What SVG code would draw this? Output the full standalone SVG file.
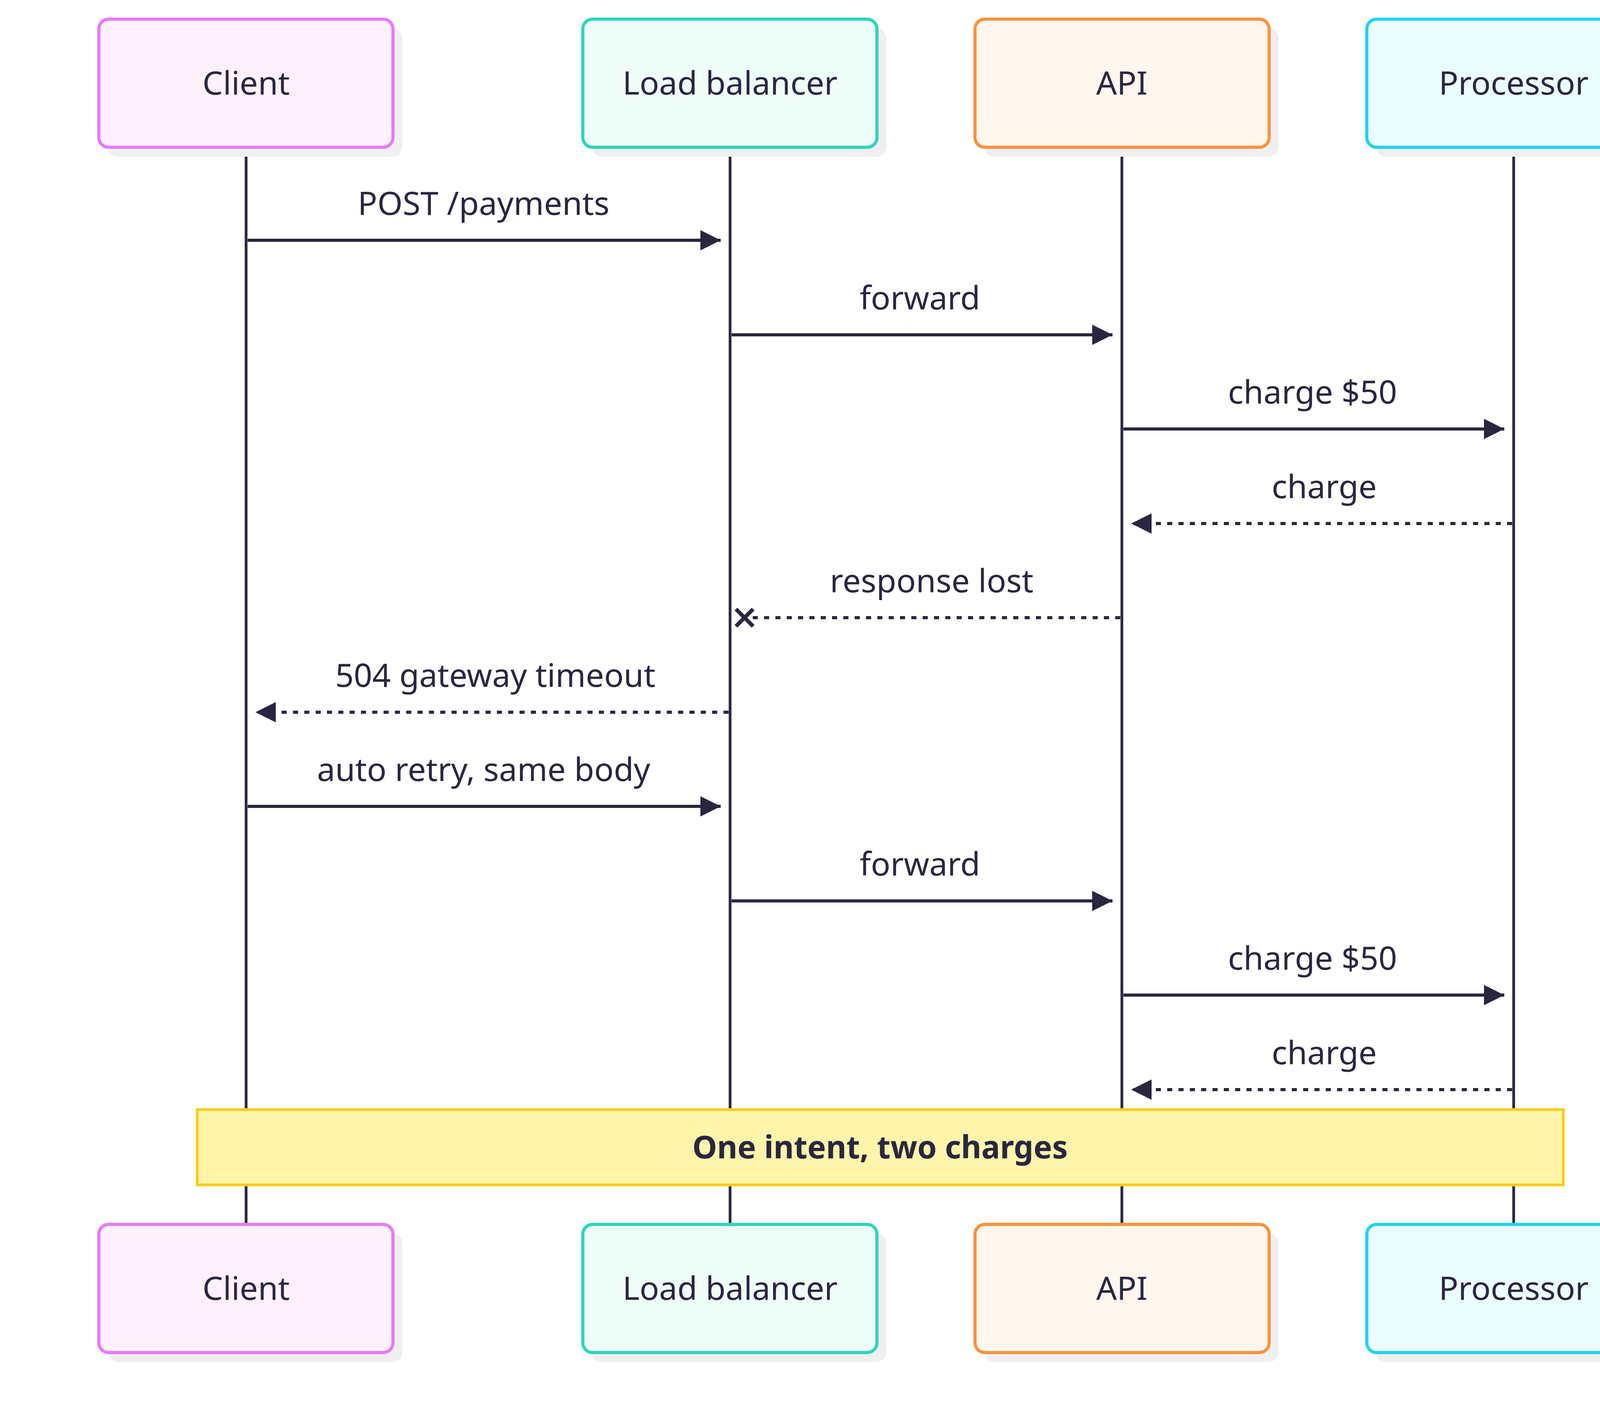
<svg xmlns="http://www.w3.org/2000/svg" width="4485" height="3650" viewBox="0 0 4485 3650">
<style>
text{font-family:"Noto Sans","DejaVu Sans",sans-serif;fill:#2a2640;text-anchor:middle}
.lbl{font-size:83px}
.nt{font-size:83px}
.life{stroke:#2a2640;stroke-width:7}
.msg{stroke:#2a2640;stroke-width:8;fill:none}
.dash{stroke-dasharray:13 16}
.sh{fill:#efefef}
.box{stroke-width:8}
</style>
<defs>
<marker id="ah" viewBox="0 0 10 10" refX="10" refY="5" markerWidth="6.5" markerHeight="6.5" orient="auto" markerUnits="strokeWidth"><path d="M0,0L10,5L0,10z" fill="#2a2640"/></marker>
</defs>
<g id="lifelines">
<line class="life" x1="630" y1="377" x2="630" y2="3134"/>
<line class="life" x1="1869" y1="377" x2="1869" y2="3134"/>
<line class="life" x1="2872" y1="377" x2="2872" y2="3134"/>
<line class="life" x1="3875" y1="377" x2="3875" y2="3134"/>
</g>
<g id="client-top"><rect class="sh" x="277" y="73" width="753" height="328" rx="25"/><rect class="box" x="253" y="49" width="753" height="328" rx="25" fill="#fff1fd" stroke="#e879f9"/><text class="nt" x="630" y="242">Client</text></g>
<g id="lb-top"><rect class="sh" x="1516" y="73" width="753" height="328" rx="25"/><rect class="box" x="1492" y="49" width="753" height="328" rx="25" fill="#effdf9" stroke="#2dd4bf"/><text class="nt" x="1869" y="242">Load balancer</text></g>
<g id="api-top"><rect class="sh" x="2520" y="73" width="753" height="328" rx="25"/><rect class="box" x="2496" y="49" width="753" height="328" rx="25" fill="#fff6ee" stroke="#fb923c"/><text class="nt" x="2872" y="242">API</text></g>
<g id="proc-top"><rect class="sh" x="3523" y="73" width="753" height="328" rx="25"/><rect class="box" x="3499" y="49" width="753" height="328" rx="25" fill="#ebfdfe" stroke="#22d3ee"/><text class="nt" x="3875" y="242">Processor</text></g>
<g id="connectors">
<line class="msg" x1="634" y1="615" x2="1845" y2="615" marker-end="url(#ah)"/>
<text class="lbl" x="1238" y="550">POST /payments</text>
<line class="msg" x1="1873" y1="857" x2="2848" y2="857" marker-end="url(#ah)"/>
<text class="lbl" x="2355" y="792">forward</text>
<line class="msg" x1="2876" y1="1098" x2="3851" y2="1098" marker-end="url(#ah)"/>
<text class="lbl" x="3360" y="1033">charge $50</text>
<line class="msg dash" x1="3871" y1="1340" x2="2896" y2="1340" marker-end="url(#ah)"/>
<text class="lbl" x="3390" y="1275">charge</text>
<line class="msg dash" x1="2868" y1="1581" x2="1920" y2="1581"/>
<path d="M1884,1559L1928,1603M1928,1559L1884,1603" stroke="#2a2640" stroke-width="10"/>
<text class="lbl" x="2385" y="1516">response lost</text>
<line class="msg dash" x1="1865" y1="1823" x2="654" y2="1823" marker-end="url(#ah)"/>
<text class="lbl" x="1268" y="1758">504 gateway timeout</text>
<line class="msg" x1="634" y1="2064" x2="1845" y2="2064" marker-end="url(#ah)"/>
<text class="lbl" x="1238" y="1999">auto retry, same body</text>
<line class="msg" x1="1873" y1="2306" x2="2848" y2="2306" marker-end="url(#ah)"/>
<text class="lbl" x="2355" y="2241">forward</text>
<line class="msg" x1="2876" y1="2547" x2="3851" y2="2547" marker-end="url(#ah)"/>
<text class="lbl" x="3360" y="2482">charge $50</text>
<line class="msg dash" x1="3871" y1="2789" x2="2896" y2="2789" marker-end="url(#ah)"/>
<text class="lbl" x="3390" y="2724">charge</text>
</g>
<g id="note"><rect x="505" y="2840" width="3497" height="193" fill="#fef5ab" stroke="#facc15" stroke-width="7"/><text x="2253" y="2965" style="font-size:80px;font-weight:bold">One intent, two charges</text></g>
<g id="client-bot"><rect class="sh" x="277" y="3158" width="753" height="328" rx="25"/><rect class="box" x="253" y="3134" width="753" height="328" rx="25" fill="#fff1fd" stroke="#e879f9"/><text class="nt" x="630" y="3327">Client</text></g>
<g id="lb-bot"><rect class="sh" x="1516" y="3158" width="753" height="328" rx="25"/><rect class="box" x="1492" y="3134" width="753" height="328" rx="25" fill="#effdf9" stroke="#2dd4bf"/><text class="nt" x="1869" y="3327">Load balancer</text></g>
<g id="api-bot"><rect class="sh" x="2520" y="3158" width="753" height="328" rx="25"/><rect class="box" x="2496" y="3134" width="753" height="328" rx="25" fill="#fff6ee" stroke="#fb923c"/><text class="nt" x="2872" y="3327">API</text></g>
<g id="proc-bot"><rect class="sh" x="3523" y="3158" width="753" height="328" rx="25"/><rect class="box" x="3499" y="3134" width="753" height="328" rx="25" fill="#ebfdfe" stroke="#22d3ee"/><text class="nt" x="3875" y="3327">Processor</text></g>
</svg>
